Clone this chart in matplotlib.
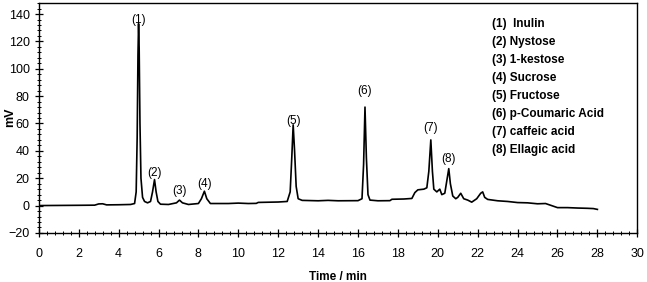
import numpy as np
import matplotlib.pyplot as plt
from matplotlib.ticker import MultipleLocator
from matplotlib import font_manager

# pick a narrow face if one is installed
names = {f.name for f in font_manager.fontManager.ttflist}
narrow = 'Liberation Sans Narrow' if 'Liberation Sans Narrow' in names else 'Liberation Sans'
plt.rcParams['font.family'] = [narrow, 'DejaVu Sans']

# chromatogram trace (time in min, signal in mV)
time = [0.0, 1.0, 2.0, 2.8, 3.0, 3.2, 3.4, 4.0, 4.6, 4.8, 4.88, 4.93, 4.97, 5.0,
        5.03, 5.07, 5.12, 5.2, 5.3, 5.45, 5.6, 5.7, 5.8, 5.88, 5.97, 6.1, 6.5,
        6.9, 7.05, 7.2, 7.5, 8.0, 8.15, 8.3, 8.42, 8.6, 9.5, 10.0, 10.5, 10.9,
        11.0, 12.0, 12.45, 12.6, 12.68, 12.75, 12.82, 12.9, 13.0, 13.2, 14.0,
        14.5, 15.0, 16.0, 16.2, 16.28, 16.35, 16.42, 16.5, 16.6, 17.0, 17.6,
        17.7, 18.3, 18.7, 18.85, 19.0, 19.3, 19.45, 19.55, 19.65, 19.73, 19.8,
        19.95, 20.1, 20.2, 20.35, 20.45, 20.55, 20.63, 20.75, 20.9, 21.0, 21.15,
        21.3, 21.5, 21.7, 21.95, 22.15, 22.25, 22.35, 22.5, 23.0, 23.5, 24.0,
        24.5, 25.0, 25.4, 25.7, 26.0, 26.5, 27.0, 27.5, 27.8, 28.0]
signal = [0.0, 0.1, 0.2, 0.3, 1.2, 1.3, 0.5, 0.6, 0.8, 1.5, 10, 50, 110, 133,
          115, 60, 20, 6, 3, 2, 3, 10, 19, 10, 3, 1, 0.8,
          2, 4, 2, 0.8, 1.5, 5, 10.5, 5, 1.5, 1.5, 1.8, 1.5, 1.6,
          2.3, 2.6, 3.0, 10, 35, 59, 40, 14, 5, 3.8, 3.5,
          3.8, 3.5, 3.6, 5, 30, 72, 35, 8, 4, 3.5, 3.6,
          4.6, 4.8, 5.2, 9.5, 11.5, 12, 13, 25, 48, 25, 12,
          10, 12, 8, 9, 18, 27, 16, 7, 5, 6, 9,
          5, 4, 2.5, 5, 9, 10, 6, 4.5, 3.5, 3, 2.2,
          2, 1.3, 1.5, 0, -1.5, -1.5, -1.8, -2, -2.2, -2.8]

# peak labels
peak_tags = ['(1)', '(2)', '(3)', '(4)', '(5)', '(6)', '(7)', '(8)']
peak_t = [5.0, 5.8, 7.05, 8.3, 12.75, 16.35, 19.65, 20.55]
peak_y = [136, 24, 10.5, 15.5, 62, 84, 57, 34]

compounds = ['(1)  Inulin', '(2) Nystose', '(3) 1-kestose', '(4) Sucrose',
             '(5) Fructose', '(6) p-Coumaric Acid', '(7) caffeic acid',
             '(8) Ellagic acid']

fig = plt.figure(figsize=(6.47, 2.82), dpi=100)
ax = fig.add_axes([0.060, 0.174, 0.925, 0.815])

ax.plot(time, signal, color='black', lw=1.2)

for tag, tx, ty in zip(peak_tags, peak_t, peak_y):
    ax.text(tx, ty, tag, ha='center', va='center', fontsize=8.5)

for i, name in enumerate(compounds):
    ax.text(0.757, 0.91 - i * 0.0785, name, transform=ax.transAxes,
            fontsize=8.5, fontweight='bold', va='center', ha='left')

ax.set_xlim(0, 30)
ax.set_ylim(-20, 148)
ax.xaxis.set_major_locator(MultipleLocator(2))
ax.xaxis.set_minor_locator(MultipleLocator(0.4))
ax.yaxis.set_major_locator(MultipleLocator(20))
ax.yaxis.set_minor_locator(MultipleLocator(4))
ax.tick_params(which='both', direction='inout', top=False, right=False)
ax.tick_params(which='major', length=6, width=0.9, labelsize=9)
ax.tick_params(which='minor', length=3, width=0.7)
ax.tick_params(axis='x', pad=8)

for s in ax.spines.values():
    s.set_linewidth(1.0)

ax.set_xlabel('Time / min', fontsize=8.5, fontweight='bold', labelpad=8)
fig.text(10 / 647, 0.585, 'mV', rotation=90, ha='center', va='center',
         fontsize=9, fontweight='bold')

fig.savefig('out.png', dpi=100)
